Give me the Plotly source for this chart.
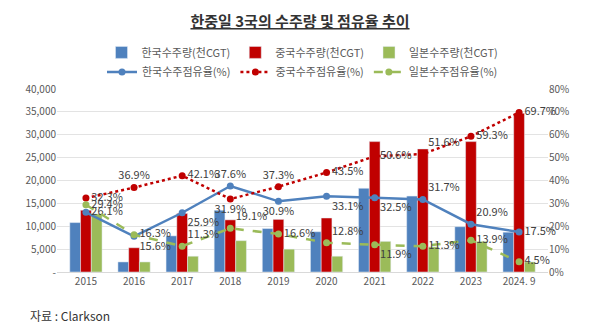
import plotly.graph_objects as go

years = ["2015", "2016", "2017", "2018", "2019", "2020", "2021", "2022", "2023", "2024. 9"]

korea_cgt = [10800, 2200, 7900, 13500, 9500, 8800, 18300, 16600, 9900, 8700]
china_cgt = [13500, 5300, 12800, 11400, 11500, 11800, 28500, 26900, 28500, 34700]
japan_cgt = [12700, 2200, 3450, 6850, 5000, 3450, 6700, 5500, 6700, 2200]

korea_share = [26.1, 15.6, 25.9, 37.6, 30.9, 33.1, 32.5, 31.7, 20.9, 17.5]
china_share = [32.3, 36.9, 42.1, 31.9, 37.3, 43.5, 50.6, 51.6, 59.3, 69.7]
japan_share = [29.4, 16.3, 11.3, 19.1, 16.6, 12.8, 11.9, 11.3, 13.9, 4.5]

left_ticks = [0, 5000, 10000, 15000, 20000, 25000, 30000, 35000, 40000]
left_ticktext = ["-", "5,000", "10,000", "15,000", "20,000", "25,000", "30,000", "35,000", "40,000"]
right_ticks = [0, 10, 20, 30, 40, 50, 60, 70, 80]
right_ticktext = ["0%", "10%", "20%", "30%", "40%", "50%", "60%", "70%", "80%"]

korea_pos = ["middle right", "bottom right", "bottom right", "top center", "bottom center",
             "bottom right", "bottom right", "top right", "top right", "middle right"]
china_pos = ["middle right", "top center", "middle right", "bottom center", "top center",
             "middle right", "middle right", "top right", "middle right", "middle right"]
japan_pos = ["middle right", "middle right", "top right", "top right", "middle right",
             "top right", "bottom right", "middle right", "middle right", "middle right"]

BLUE = "#4F81BD"
RED = "#C00000"
GREEN = "#9BBB59"
FONT = "Noto Sans CJK KR"
TXT = "#404040"

fig = go.Figure()
fig.add_bar(x=years, y=korea_cgt, name="한국수주량(천CGT)", marker_color=BLUE, legend="legend")
fig.add_bar(x=years, y=china_cgt, name="중국수주량(천CGT)", marker_color=RED, legend="legend")
fig.add_bar(x=years, y=japan_cgt, name="일본수주량(천CGT)", marker_color=GREEN, legend="legend")

def pct(v):
    return [f"{x:.1f}%" for x in v]

fig.add_scatter(x=years, y=korea_share, yaxis="y2", name="한국수주점유율(%)", mode="lines+markers+text",
                line=dict(color=BLUE, width=2.5), marker=dict(size=7, color=BLUE),
                text=pct(korea_share), textposition=korea_pos, cliponaxis=False,
                textfont=dict(size=11, color=TXT, family=FONT), legend="legend2")
fig.add_scatter(x=years, y=china_share, yaxis="y2", name="중국수주점유율(%)", mode="lines+markers+text",
                line=dict(color=RED, width=2.5, dash="dot"), marker=dict(size=7, color=RED),
                text=pct(china_share), textposition=china_pos, cliponaxis=False,
                textfont=dict(size=11, color=TXT, family=FONT), legend="legend2")
fig.add_scatter(x=years, y=japan_share, yaxis="y2", name="일본수주점유율(%)", mode="lines+markers+text",
                line=dict(color=GREEN, width=2.5, dash="dash"), marker=dict(size=7, color=GREEN),
                text=pct(japan_share), textposition=japan_pos, cliponaxis=False,
                textfont=dict(size=11, color=TXT, family=FONT), legend="legend2")

fig.update_layout(
    width=600, height=335,
    margin=dict(l=57, r=52, t=89, b=63),
    paper_bgcolor="white", plot_bgcolor="white",
    font=dict(family=FONT, color="#595959", size=10),
    barmode="group", bargap=0.33, bargroupgap=0,
    showlegend=True,
    title=dict(text="<b><u>한중일 3국의 수주량 및 점유율 추이</u></b>", x=0.5, xanchor="center",
               y=0.935, yanchor="middle", font=dict(size=15, color="#333333", family=FONT)),
    xaxis=dict(type="category", showgrid=False, showline=True, linecolor="#D9D9D9",
               ticks="", tickfont=dict(size=10, color="#595959")),
    yaxis=dict(range=[0, 40000], tickvals=left_ticks, ticktext=left_ticktext,
               gridcolor="#E3E3E3", zeroline=False, showline=False,
               tickfont=dict(size=10, color="#595959")),
    yaxis2=dict(range=[0, 80], tickvals=right_ticks, ticktext=right_ticktext,
                overlaying="y", side="right", showgrid=False, zeroline=False,
                tickfont=dict(size=10, color="#595959")),
    legend=dict(orientation="h", x=0.5, xanchor="center", y=1.20, yanchor="middle",
                font=dict(size=11, color="#595959", family=FONT), bgcolor="rgba(0,0,0,0)",
                itemwidth=30, traceorder="normal"),
    legend2=dict(orientation="h", x=0.5, xanchor="center", y=1.093, yanchor="middle",
                 font=dict(size=11, color="#595959", family=FONT), bgcolor="rgba(0,0,0,0)",
                 itemwidth=30, traceorder="normal"),
    annotations=[dict(text="자료 : Clarkson", xref="paper", yref="paper",
                      x=(28 - 57) / 491, y=-(315 - 272) / 183, xanchor="left", yanchor="middle",
                      showarrow=False, font=dict(size=12, color="#333333", family=FONT))],
)

fig.write_html("out.html")
